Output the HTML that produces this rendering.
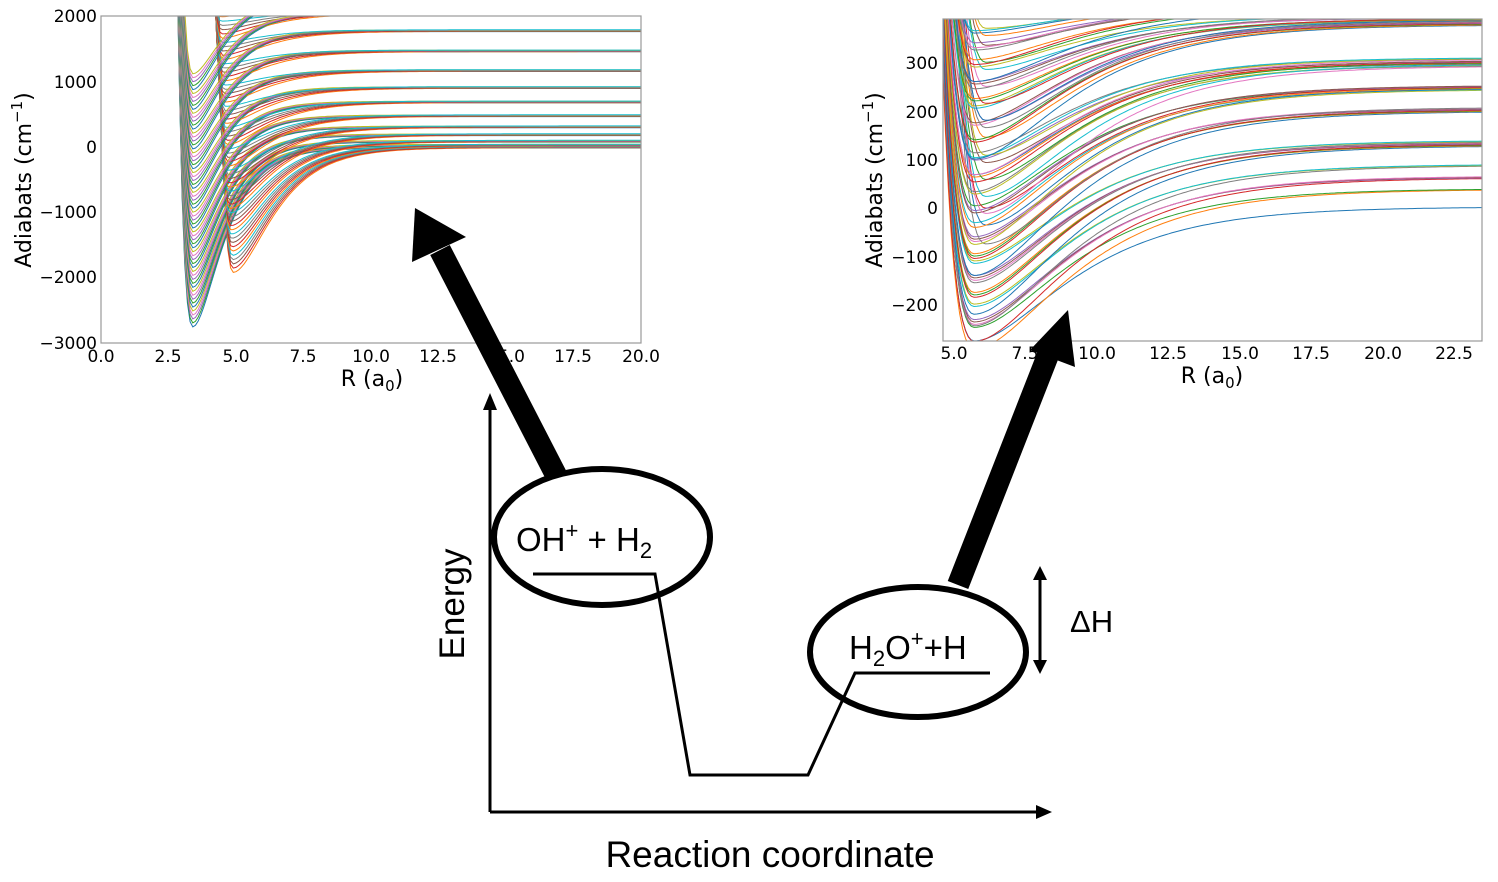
<!DOCTYPE html>
<html><head><meta charset="utf-8"><style>
body{margin:0;background:#fff;}
svg{display:block;font-family:"DejaVu Sans","Liberation Sans",sans-serif;}
</style></head><body>
<svg id="s" width="1498" height="882" viewBox="0 0 1498 882" xmlns="http://www.w3.org/2000/svg">
<defs>
<clipPath id="c1"><rect x="101" y="16" width="540" height="327"/></clipPath>
<clipPath id="c2"><rect x="943" y="19" width="539" height="322"/></clipPath>
</defs>
<g id="g1" clip-path="url(#c1)"></g>
<g id="g2" clip-path="url(#c2)"></g>
<rect x="101" y="16" width="540" height="327" fill="none" stroke="#999" stroke-width="1.2"/>
<rect x="943" y="19" width="539" height="322" fill="none" stroke="#999" stroke-width="1.2"/>
<g font-size="17" fill="#000" text-anchor="end">
<text x="97" y="22">2000</text><text x="97" y="88">1000</text><text x="97" y="153">0</text>
<text x="97" y="218">−1000</text><text x="97" y="283">−2000</text><text x="97" y="349">−3000</text>
</g>
<g font-size="17" text-anchor="middle">
<text x="101" y="362">0.0</text><text x="168" y="362">2.5</text><text x="236" y="362">5.0</text>
<text x="303" y="362">7.5</text><text x="371" y="362">10.0</text><text x="438" y="362">12.5</text>
<text x="506" y="362">15.0</text><text x="573" y="362">17.5</text><text x="641" y="362">20.0</text>
</g>
<text x="372" y="386" font-size="22" text-anchor="middle">R (a<tspan font-size="15" dy="5">0</tspan><tspan dy="-5">)</tspan></text>
<text transform="translate(31,180) rotate(-90)" font-size="22" text-anchor="middle">Adiabats (cm<tspan font-size="15" dy="-9">−1</tspan><tspan dy="9">)</tspan></text>
<g font-size="17" text-anchor="end">
<text x="938" y="69">300</text><text x="938" y="118">200</text><text x="938" y="166">100</text>
<text x="938" y="214">0</text><text x="938" y="263">−100</text><text x="938" y="311">−200</text>
</g>
<g font-size="17" text-anchor="middle">
<text x="954" y="359">5.0</text><text x="1025" y="359">7.5</text><text x="1097" y="359">10.0</text>
<text x="1168" y="359">12.5</text><text x="1240" y="359">15.0</text><text x="1311" y="359">17.5</text>
<text x="1383" y="359">20.0</text><text x="1454" y="359">22.5</text>
</g>
<text x="1212" y="383" font-size="22" text-anchor="middle">R (a<tspan font-size="15" dy="5">0</tspan><tspan dy="-5">)</tspan></text>
<text transform="translate(882,180) rotate(-90)" font-size="22" text-anchor="middle">Adiabats (cm<tspan font-size="15" dy="-9">−1</tspan><tspan dy="9">)</tspan></text>

<g stroke="#000" stroke-width="3" fill="none">
<line x1="490" y1="812" x2="490" y2="405"/>
<line x1="490" y1="812" x2="1040" y2="812"/>
<polyline points="533,574 655,574 690,775 808,775 855,673 990,673"/>
<line x1="1040" y1="578" x2="1040" y2="662"/>
</g>
<polygon points="490,393 483,410 497,410" fill="#000"/>
<polygon points="1052,812 1036,805 1036,819" fill="#000"/>
<polygon points="1040,566 1033,580 1047,580" fill="#000"/>
<polygon points="1040,674 1033,660 1047,660" fill="#000"/>
<ellipse cx="602" cy="537" rx="108" ry="68" fill="none" stroke="#000" stroke-width="6"/>
<ellipse cx="918" cy="652" rx="108" ry="65" fill="none" stroke="#000" stroke-width="6"/>
<line x1="556" y1="475" x2="440" y2="250" stroke="#000" stroke-width="22"/>
<polygon points="415,208 412,262 466,237" fill="#000"/>
<line x1="958" y1="585" x2="1050" y2="350" stroke="#000" stroke-width="22"/>
<polygon points="1068,310 1030,350 1075,367" fill="#000"/>
<g font-family="'Liberation Sans',sans-serif" fill="#000">
<text x="516" y="551" font-size="33">OH<tspan font-size="22" dy="-13">+</tspan><tspan dy="13"> + H</tspan><tspan font-size="22" dy="7">2</tspan></text>
<text x="849" y="659" font-size="33">H<tspan font-size="22" dy="7">2</tspan><tspan dy="-7">O</tspan><tspan font-size="22" dy="-13">+</tspan><tspan dy="13">+H</tspan></text>
<text x="1070" y="632" font-size="31">ΔH</text>
<text transform="translate(464,604) rotate(-90)" font-size="35" text-anchor="middle">Energy</text>
<text x="770" y="867" font-size="37" text-anchor="middle">Reaction coordinate</text>
</g>
</svg>
<script>
var C=["#1f77b4","#ff7f0e","#2ca02c","#d62728","#9467bd","#8c564b","#e377c2","#7f7f7f","#bcbd22","#17becf"];
function curve(Einf,Vmin,Re,A,b,aOut,x0,x1,sx,ox,sy,oy){
  var D=Einf-Vmin;var d="";
  for(var R=x0;R<=x1;R+=0.1){
    var V;
    if(R<Re){var u=Math.exp(b*(Re-R))-1;V=Vmin+A*u*u;}
    else{var e=1-Math.exp(-aOut*(R-Re));V=Vmin+D*e*e*(D>0?1:1);}
    var py=oy-V*sy;if(py<-50)py=-50;if(py>1000)py=1000;
    d+=(d?"L":"M")+(ox+R*sx).toFixed(1)+","+py.toFixed(1);
  }
  return d;
}
(function(){
  var lv=[0,30,90,190,310,480,690,910,1170,1470,1780,2050,2300],h="",k=0,N=lv.length*10;
  for(var li=0;li<lv.length;li++)for(var j=0;j<10;j++){
    var E=lv[li]+(j-5)*3;var t=k/(N-1);var Re,Vmin,aO,A,b;
    if(j%2==0){Re=3.4;Vmin=-2750+t*3900;aO=1.0;A=3000;b=1.5;}
    else{Re=4.9-0.5*t;Vmin=-1950+t*4200;aO=0.75;A=2500;b=1.6;}
    if(Vmin>E)Vmin=E-30;
    h+='<path d="'+curve(E,Vmin,Re,A,b,aO,2.4,20.2,27,101,0.0654,147)+'" fill="none" stroke="'+C[k%10]+'" stroke-width="1"/>';k++;
  }
  document.getElementById("g1").innerHTML=h;
})();
(function(){
  var lv=[3,40,65,90,135,205,250,300,310,385,395,420],cnt=[1,2,4,3,10,8,8,10,4,10,10,12],h="",k=0,tot=0;
  for(var i=0;i<cnt.length;i++)tot+=cnt[i];
  for(var li=0;li<lv.length;li++)for(var j=0;j<cnt[li];j++){
    var t=k/(tot-1);var E=lv[li]+(j-cnt[li]/2)*1.2;
    var Vmin=-275+t*650+((j*37)%50)-25;if(k==0)Vmin=-275;if(Vmin>E)Vmin=E-10;
    var Re=5.7+((k%3==0&&t>0.3)?0.4:0);
    h+='<path d="'+curve(E,Vmin,Re,300,0.8,0.33,4.5,23.6,28.63,954-5*28.63,0.4833,208)+'" fill="none" stroke="'+C[k%10]+'" stroke-width="1"/>';k++;
  }
  document.getElementById("g2").innerHTML=h;
})();
</script>
</body></html>
